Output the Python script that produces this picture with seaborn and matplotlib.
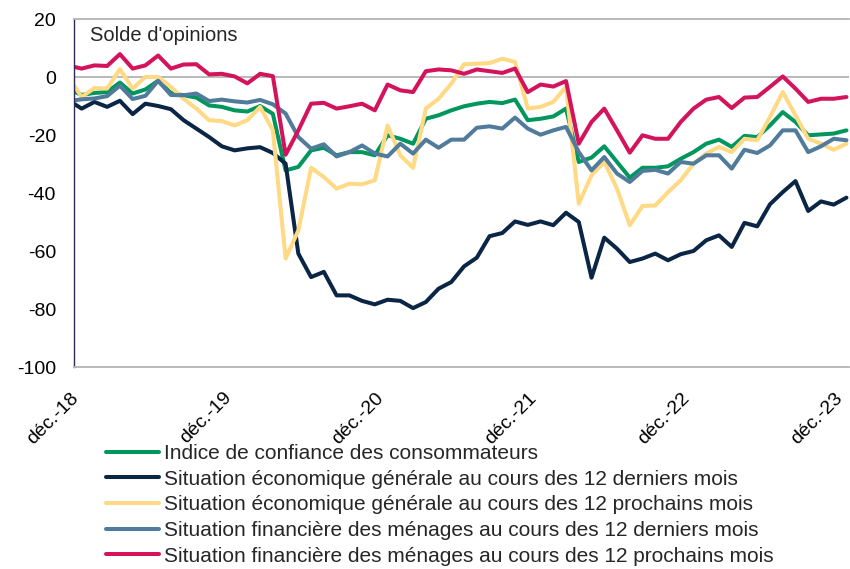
import pandas as pd
import matplotlib
matplotlib.use('Agg')
import matplotlib.pyplot as plt
import seaborn as sns

# monthly index, 0 = déc. 2018, 60 = déc. 2023 (the first value, nov. 2018, is cut by the axis)
mois = list(range(-1, 61))

confiance = [-4.2, -6.2, -5.5, -5.2, -1.9, -5.7, -4.3, -1.3, -5.5, -6.3, -7.1, -9.8, -10.3, -11.5, -11.9,
             -10.0, -12.7, -32.2, -31.0, -25.3, -24.4, -27.0, -25.9, -25.9, -27.0, -20.1, -21.3, -23.0,
             -14.4, -13.2, -11.5, -10.1, -9.2, -8.6, -9.0, -7.8, -14.9, -14.4, -13.6, -10.9, -29.3, -27.8,
             -23.9, -29.3, -34.7, -31.3, -31.3, -30.8, -28.2, -25.9, -23.0, -21.6, -24.1, -20.3, -20.7,
             -16.7, -12.1, -15.5, -20.1, -19.8, -19.5, -18.4]
eco_passe = [-8.1, -10.9, -8.6, -10.3, -8.2, -12.8, -9.2, -10.0, -11.1, -14.9, -17.8, -20.7, -23.9, -25.3,
             -24.6, -24.2, -26.2, -29.9, -60.9, -69.0, -67.2, -75.3, -75.3, -77.2, -78.4, -76.8, -77.2,
             -79.7, -77.6, -73.0, -70.7, -65.3, -62.3, -54.9, -53.8, -49.8, -51.0, -49.8, -51.1, -46.8,
             -50.0, -69.2, -55.4, -59.2, -63.8, -62.6, -60.9, -63.2, -61.1, -60.0, -56.3, -54.6, -58.6,
             -50.3, -51.5, -43.9, -39.7, -35.9, -46.2, -42.9, -44.0, -41.6]
eco_futur = [-0.2, -6.9, -3.8, -4.0, 2.7, -4.0, 0.0, 0.0, -3.4, -7.5, -10.9, -14.9, -15.2, -16.7, -14.9,
             -10.3, -18.4, -62.6, -52.9, -31.3, -34.5, -38.5, -36.8, -37.0, -35.6, -16.7, -27.0, -31.3,
             -10.9, -7.5, -2.3, 4.4, 4.6, 4.8, 6.3, 5.2, -10.9, -10.3, -8.6, -3.4, -43.7, -33.9, -29.3,
             -38.5, -51.1, -44.5, -44.3, -39.7, -35.6, -29.9, -26.4, -24.1, -25.9, -21.3, -21.8, -13.8,
             -5.2, -13.2, -21.3, -23.0, -25.1, -23.0]
fin_passe = [-8.3, -7.7, -7.4, -6.6, -3.0, -7.6, -6.5, -1.3, -6.2, -6.3, -5.7, -8.3, -7.8, -8.4, -8.8,
             -7.9, -9.4, -12.6, -20.7, -24.7, -23.2, -27.4, -25.9, -23.6, -26.4, -27.4, -23.0, -26.4,
             -21.6, -24.4, -21.6, -21.6, -17.5, -17.0, -17.8, -14.0, -17.8, -19.9, -18.4, -17.2, -25.9,
             -32.2, -27.6, -33.3, -36.2, -32.4, -32.0, -33.3, -29.3, -29.9, -27.0, -27.0, -31.6, -25.1,
             -26.2, -23.6, -18.4, -18.4, -25.9, -23.9, -21.3, -21.8]
fin_futur = [3.9, 2.9, 4.0, 3.8, 7.9, 2.9, 4.0, 7.4, 2.9, 4.3, 4.4, 0.9, 1.1, 0.2, -2.2, 1.1, 0.3, -26.8,
             -18.4, -9.2, -8.9, -10.9, -10.1, -9.2, -11.5, -2.6, -4.6, -5.2, 2.0, 2.6, 2.3, 1.1, 2.6, 2.0,
             1.4, 2.9, -5.2, -2.6, -3.3, -1.4, -23.0, -15.5, -10.9, -18.4, -26.1, -20.1, -21.3, -21.3,
             -15.5, -10.9, -7.8, -6.9, -10.7, -7.1, -6.9, -3.4, 0.2, -4.0, -8.6, -7.5, -7.5, -6.9]

series = ["Indice de confiance des consommateurs",
          "Situation économique générale au cours des 12 derniers mois",
          "Situation économique générale au cours des 12 prochains mois",
          "Situation financière des ménages au cours des 12 derniers mois",
          "Situation financière des ménages au cours des 12 prochains mois"]
colors = ["#00965E", "#0B2545", "#FFD983", "#517B9B", "#D3145C"]

tick_pos = [0, 12, 24, 36, 48, 60]
tick_labels = ["déc.-18", "déc.-19", "déc.-20", "déc.-21", "déc.-22", "déc.-23"]

# long format for seaborn
frames = []
for name, vals in zip(series, [confiance, eco_passe, eco_futur, fin_passe, fin_futur]):
    frames.append(pd.DataFrame({"mois": mois, "valeur": vals, "serie": name}))
df = pd.concat(frames, ignore_index=True)

sns.set_style("white")
plt.rcParams['font.family'] = ['Liberation Sans', 'DejaVu Sans']
plt.rcParams['axes.unicode_minus'] = False

fig = plt.figure(figsize=(8.5, 5.69), dpi=100)
ax = fig.add_axes([74 / 850, 1 - 367 / 569, 775 / 850, 348 / 569])

sns.lineplot(data=df, x="mois", y="valeur", hue="serie", hue_order=series,
             palette=colors, linewidth=2.9, ax=ax, legend=True)

ax.set_xlim(-0.6, 60.2)
ax.set_ylim(-100, 20)
ax.set_yticks(range(-100, 21, 20))
ax.set_xticks(tick_pos)
ax.set_xticklabels(tick_labels, rotation=45, ha="right", va="top")
ax.tick_params(axis="both", length=0, labelsize=14, colors="black")
ax.tick_params(axis="y", pad=13)
ax.tick_params(axis="x", pad=16)
ax.set_xlabel("")
ax.set_ylabel("")

ax.axhline(0, color="#B3B3B3", linewidth=1.3, zorder=1)
for s in ["top", "bottom"]:
    ax.spines[s].set_color("#B3B3B3")
    ax.spines[s].set_linewidth(1.3)
ax.spines["right"].set_visible(False)
ax.spines["left"].set_color("#2B2B55")
ax.spines["left"].set_linewidth(1.0)

ax.text(0.021, 0.952, "Solde d'opinions", transform=ax.transAxes, fontsize=14.5,
        ha="left", va="center")

# legend under the plot, last row just fits at the bottom edge
handles, labels = ax.get_legend_handles_labels()
ax.legend(handles, labels, loc="upper left", bbox_to_anchor=(106 / 850, 1 - 444 / 569),
          bbox_transform=fig.transFigure, frameon=False, fontsize=15, handlelength=2.55,
          handletextpad=0.25, labelspacing=0.32, borderpad=0, borderaxespad=0)

fig.savefig("out.png", dpi=100)
